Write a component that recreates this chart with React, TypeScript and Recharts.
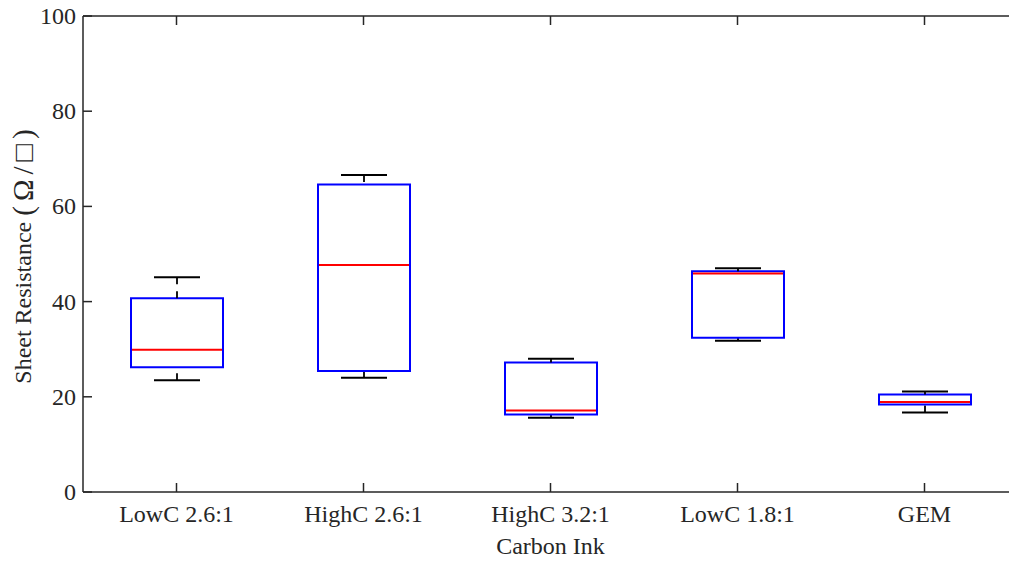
import React from "react";
import { ComposedChart, Bar, Line, XAxis, YAxis } from "recharts";

const CATEGORIES = ["LowC 2.6:1", "HighC 2.6:1", "HighC 3.2:1", "LowC 1.8:1", "GEM"];
const MINS = [23.5, 24.0, 15.6, 31.8, 16.7];
const Q1 = [26.2, 25.4, 16.3, 32.4, 18.4];
const MEDIANS = [29.9, 47.7, 17.1, 45.9, 18.9];
const Q3 = [40.7, 64.6, 27.2, 46.4, 20.5];
const MAXS = [45.1, 66.6, 28.0, 47.0, 21.1];
const Y_TICKS = [0, 20, 40, 60, 80, 100];

const AXIS = "#262626";
const FONT = "'Liberation Serif', 'Times New Roman', serif";
const FONT_SIZE = 24;
const TICK_LEN = 9;

// stacked segments: invisible base, lower whisker, lower half box, upper half box, upper whisker
const data = CATEGORIES.map((name, i) => ({
  name,
  base: MINS[i],
  lowWhisker: Q1[i] - MINS[i],
  lowBox: MEDIANS[i] - Q1[i],
  highBox: Q3[i] - MEDIANS[i],
  highWhisker: MAXS[i] - Q3[i],
}));

const Empty = () => <g />;

const LowWhisker = (p: any) => {
  const cx = p.x + p.width / 2;
  const bottom = p.y + p.height;
  const cap = p.width / 4;
  return (
    <g>
      <line x1={cx} y1={bottom} x2={cx} y2={p.y} stroke="#000" strokeWidth={1.8} strokeDasharray="7 7" />
      <line x1={cx - cap} y1={bottom} x2={cx + cap} y2={bottom} stroke="#000" strokeWidth={2} />
    </g>
  );
};

const HighWhisker = (p: any) => {
  const cx = p.x + p.width / 2;
  const cap = p.width / 4;
  return (
    <g>
      <line x1={cx} y1={p.y} x2={cx} y2={p.y + p.height} stroke="#000" strokeWidth={1.8} strokeDasharray="7 7" />
      <line x1={cx - cap} y1={p.y} x2={cx + cap} y2={p.y} stroke="#000" strokeWidth={2} />
    </g>
  );
};

const LowBox = (p: any) => {
  const { x, y, width, height } = p;
  const b = y + height;
  return (
    <path
      d={`M${x},${y} L${x},${b} L${x + width},${b} L${x + width},${y}`}
      fill="none"
      stroke="#0000ff"
      strokeWidth={2}
      strokeLinecap="square"
    />
  );
};

const HighBox = (p: any) => {
  const { x, y, width, height } = p;
  const b = y + height;
  return (
    <g>
      <path
        d={`M${x},${b} L${x},${y} L${x + width},${y} L${x + width},${b}`}
        fill="none"
        stroke="#0000ff"
        strokeWidth={2}
        strokeLinecap="square"
      />
      <line x1={x + 1} y1={b} x2={x + width - 1} y2={b} stroke="#ff0000" strokeWidth={2} />
    </g>
  );
};

const BottomTick = (p: any) => (
  <g>
    <line x1={p.x} y1={p.y} x2={p.x} y2={p.y - TICK_LEN} stroke={AXIS} strokeWidth={1.5} />
    <text x={p.x} y={p.y + 30} textAnchor="middle" fontSize={FONT_SIZE} fontFamily={FONT} fill={AXIS}>
      {p.payload.value}
    </text>
  </g>
);

const TopTick = (p: any) => (
  <line x1={p.x} y1={p.y} x2={p.x} y2={p.y + TICK_LEN} stroke={AXIS} strokeWidth={1.5} />
);

const LeftTick = (p: any) => (
  <g>
    <line x1={p.x} y1={p.y} x2={p.x + TICK_LEN} y2={p.y} stroke={AXIS} strokeWidth={1.5} />
    <text x={p.x - 7} y={p.y} textAnchor="end" dominantBaseline="central" fontSize={FONT_SIZE} fontFamily={FONT} fill={AXIS}>
      {p.payload.value}
    </text>
  </g>
);

const RightTick = (p: any) => (
  <line x1={p.x} y1={p.y} x2={p.x - TICK_LEN} y2={p.y} stroke={AXIS} strokeWidth={1.5} />
);

export default function App() {
  return (
    <div style={{ position: "absolute", left: 0, top: 0, width: 1009, height: 562, overflow: "hidden", background: "#fff" }}>
      <ComposedChart
        width={1030}
        height={562}
        data={data}
        margin={{ top: 15, right: 11, bottom: 0, left: 0 }}
        barCategoryGap={0}
      >
        <XAxis
          xAxisId="x"
          dataKey="name"
          height={70}
          axisLine={{ stroke: AXIS, strokeWidth: 1.5 }}
          tickLine={false}
          tickSize={0}
          tickMargin={0}
          interval={0}
          tick={BottomTick}
          label={{
            content: (props: any) => {
              const vb = props.viewBox;
              return (
                <text x={vb.x + vb.width / 2} y={vb.y + 62} textAnchor="middle" fontSize={FONT_SIZE} fontFamily={FONT} fill={AXIS}>
                  Carbon Ink
                </text>
              );
            },
          }}
        />
        <XAxis
          xAxisId="top"
          dataKey="name"
          orientation="top"
          height={1}
          axisLine={{ stroke: AXIS, strokeWidth: 1.5 }}
          tickLine={false}
          tickSize={0}
          tickMargin={0}
          interval={0}
          tick={TopTick}
        />
        <YAxis
          yAxisId="y"
          type="number"
          domain={[0, 100]}
          ticks={Y_TICKS}
          width={83}
          axisLine={{ stroke: AXIS, strokeWidth: 1.5 }}
          tickLine={false}
          tickSize={0}
          tickMargin={0}
          tick={LeftTick}
          label={{
            content: (props: any) => {
              const vb = props.viewBox;
              const cx = 23;
              const cy = vb.y + vb.height / 2;
              return (
                <text
                  x={cx}
                  y={cy}
                  transform={`rotate(-90 ${cx} ${cy})`}
                  textAnchor="middle"
                  dominantBaseline="central"
                  fontSize={FONT_SIZE}
                  fontFamily={FONT}
                  fill={AXIS}
                >
                  Sheet Resistance{" "}
                  <tspan fontSize={29} letterSpacing={5}>(Ω/□)</tspan>
                </text>
              );
            },
          }}
        />
        <YAxis
          yAxisId="right"
          orientation="right"
          type="number"
          domain={[0, 100]}
          ticks={Y_TICKS}
          width={1}
          axisLine={{ stroke: AXIS, strokeWidth: 1.5 }}
          tickLine={false}
          tickSize={0}
          tickMargin={0}
          tick={RightTick}
        />
        <Bar xAxisId="x" yAxisId="y" dataKey="base" stackId="box" barSize={92} shape={Empty} isAnimationActive={false} />
        <Bar xAxisId="x" yAxisId="y" dataKey="lowWhisker" stackId="box" barSize={92} shape={LowWhisker} isAnimationActive={false} />
        <Bar xAxisId="x" yAxisId="y" dataKey="lowBox" stackId="box" barSize={92} shape={LowBox} isAnimationActive={false} />
        <Bar xAxisId="x" yAxisId="y" dataKey="highBox" stackId="box" barSize={92} shape={HighBox} isAnimationActive={false} />
        <Bar xAxisId="x" yAxisId="y" dataKey="highWhisker" stackId="box" barSize={92} shape={HighWhisker} isAnimationActive={false} />
        {/* invisible series so the top and right frame axes are drawn */}
        <Line
          xAxisId="top"
          yAxisId="right"
          dataKey="base"
          stroke="none"
          dot={false}
          activeDot={false}
          isAnimationActive={false}
        />
      </ComposedChart>
    </div>
  );
}
